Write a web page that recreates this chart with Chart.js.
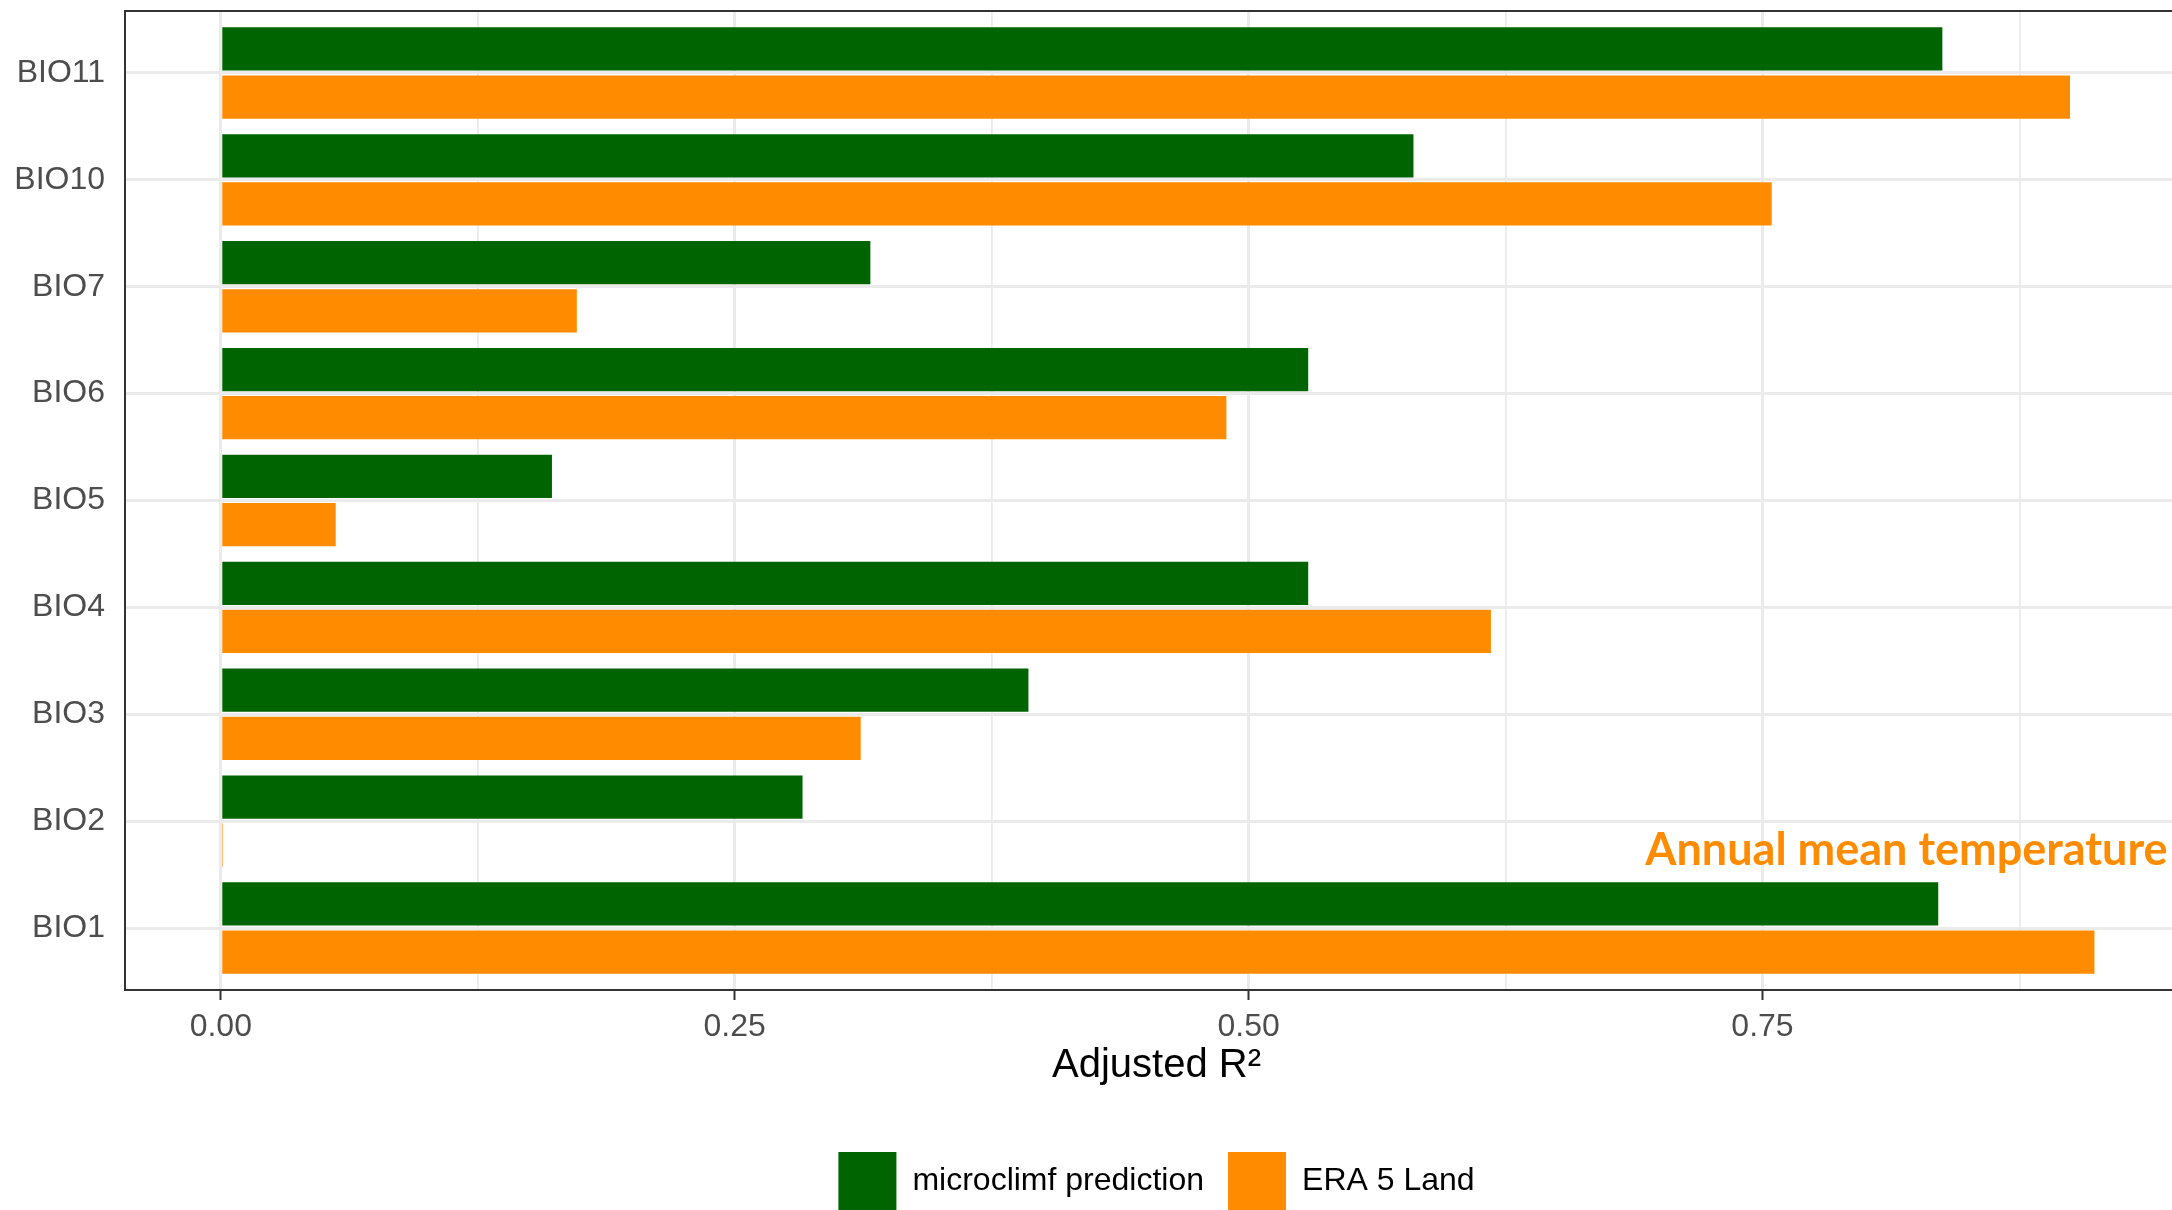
<!DOCTYPE html>
<html><head><meta charset="utf-8">
<script src="https://cdn.jsdelivr.net/npm/chart.js@4.4.1/dist/chart.umd.min.js"></script>
<style>
html,body{margin:0;padding:0;background:#fff;overflow:hidden;width:2172px;height:1210px}
#wrap{position:absolute;left:0;top:0;width:2200px;height:1220px}
</style></head>
<body><div id="wrap"><canvas id="c" width="2200" height="1220"></canvas></div>
<script>
const categories = ['BIO11','BIO10','BIO7','BIO6','BIO5','BIO4','BIO3','BIO2','BIO1'];
const seriesNames = ['microclimf prediction','ERA 5 Land'];
const microclimf = [0.8375,0.5802,0.3160,0.5290,0.1611,0.5290,0.3929,0.2830,0.8355];
const era5land   = [0.8996,0.7545,0.1732,0.4892,0.0559,0.6179,0.3113,0.0010,0.9115];
const xMajorTicks = [0, 0.25, 0.5, 0.75];
const xMajorLabels = ['0.00','0.25','0.50','0.75'];
const xMinorTicks = [0.125, 0.375, 0.625, 0.875];
const annotationText = 'Annual mean temperature';
const annotationAt = {x: 0.82, y: 0.73};

const GREEN = '#006400', ORANGE = '#FF8C00';
const yPos = i => categories.length - 1 - i;
const toPoints = arr => arr.map((v, i) => ({x: v, y: yPos(i)}));

const allXTicks = xMajorTicks.concat(xMinorTicks).sort((a,b)=>a-b);
const isMajor = v => xMajorTicks.some(t => Math.abs(t - v) < 1e-9);

const panelPlugin = {
  id: 'panel',
  afterDatasetsDraw(chart) {
    const {ctx, scales} = chart;
    ctx.save();
    ctx.fillStyle = ORANGE;
    ctx.font = 'bold 45px Lato';
    ctx.textAlign = 'center';
    ctx.textBaseline = 'middle';
    ctx.fillText(annotationText, scales.x.getPixelForValue(annotationAt.x), scales.y.getPixelForValue(annotationAt.y));
    ctx.restore();
  },
  afterDraw(chart) {
    const {ctx, chartArea: a} = chart;
    ctx.save();
    ctx.strokeStyle = '#333333';
    ctx.lineWidth = 2;
    ctx.strokeRect(a.left, a.top, a.right - a.left, a.bottom - a.top);
    ctx.restore();
  }
};

new Chart(document.getElementById('c'), {
  type: 'bar',
  data: {
    datasets: [
      {label: seriesNames[0], data: toPoints(microclimf), backgroundColor: GREEN, borderWidth: 0},
      {label: seriesNames[1], data: toPoints(era5land), backgroundColor: ORANGE, borderWidth: 0}
    ]
  },
  options: {
    indexAxis: 'y',
    responsive: false,
    animation: false,
    events: [],
    categoryPercentage: 0.9,
    barPercentage: 0.9,
    layout: {padding: {top: 11, right: 12, left: 0, bottom: 0}},
    scales: {
      x: {
        type: 'linear',
        min: -0.0466, max: 0.957,
        offset: false,
        afterBuildTicks: s => { s.ticks = allXTicks.map(v => ({value: v})); },
        afterFit: s => { s.height = 138; s.paddingLeft = 0; s.paddingRight = 0; },
        ticks: {
          autoSkip: false, maxRotation: 0,
          color: '#4d4d4d',
          font: {family: 'Liberation Sans', size: 32},
          padding: 8,
          callback: v => { const i = xMajorTicks.findIndex(t => Math.abs(t - v) < 1e-9); return i >= 0 ? xMajorLabels[i] : ''; }
        },
        grid: {
          offset: false,
          color: '#ebebeb',
          lineWidth: c => isMajor(c.tick.value) ? 3 : 1.8,
          tickColor: c => isMajor(c.tick.value) ? '#333333' : 'rgba(0,0,0,0)',
          tickWidth: 2,
          tickLength: 10,
          drawTicks: true
        },
        border: {display: false},
        title: {
          display: true, text: 'Adjusted R²', color: '#000',
          font: {family: 'Liberation Sans', size: 40, lineHeight: 1.2},
          padding: {top: 0, bottom: 38}
        }
      },
      y: {
        type: 'linear',
        min: -0.58, max: 8.58,
        offset: false,
        afterBuildTicks: s => { s.ticks = categories.map((c, i) => ({value: yPos(i)})); },
        afterFit: s => { s.width = 125; s.paddingTop = 0; s.paddingBottom = 0; },
        ticks: {
          autoSkip: false,
          color: '#4d4d4d',
          font: {family: 'Liberation Sans', size: 32},
          padding: 20,
          callback: v => categories[categories.length - 1 - Math.round(v)]
        },
        grid: {offset: false, color: '#ebebeb', lineWidth: 3, drawTicks: false, tickLength: 0},
        border: {display: false}
      }
    },
    plugins: {
      legend: {
        position: 'bottom',
        fullSize: false,
        labels: {
          boxWidth: 58, boxHeight: 58, padding: 24,
          color: '#000',
          font: {family: 'Liberation Sans', size: 32}
        }
      },
      tooltip: {enabled: false}
    }
  },
  plugins: [panelPlugin]
});
</script>
</body></html>
